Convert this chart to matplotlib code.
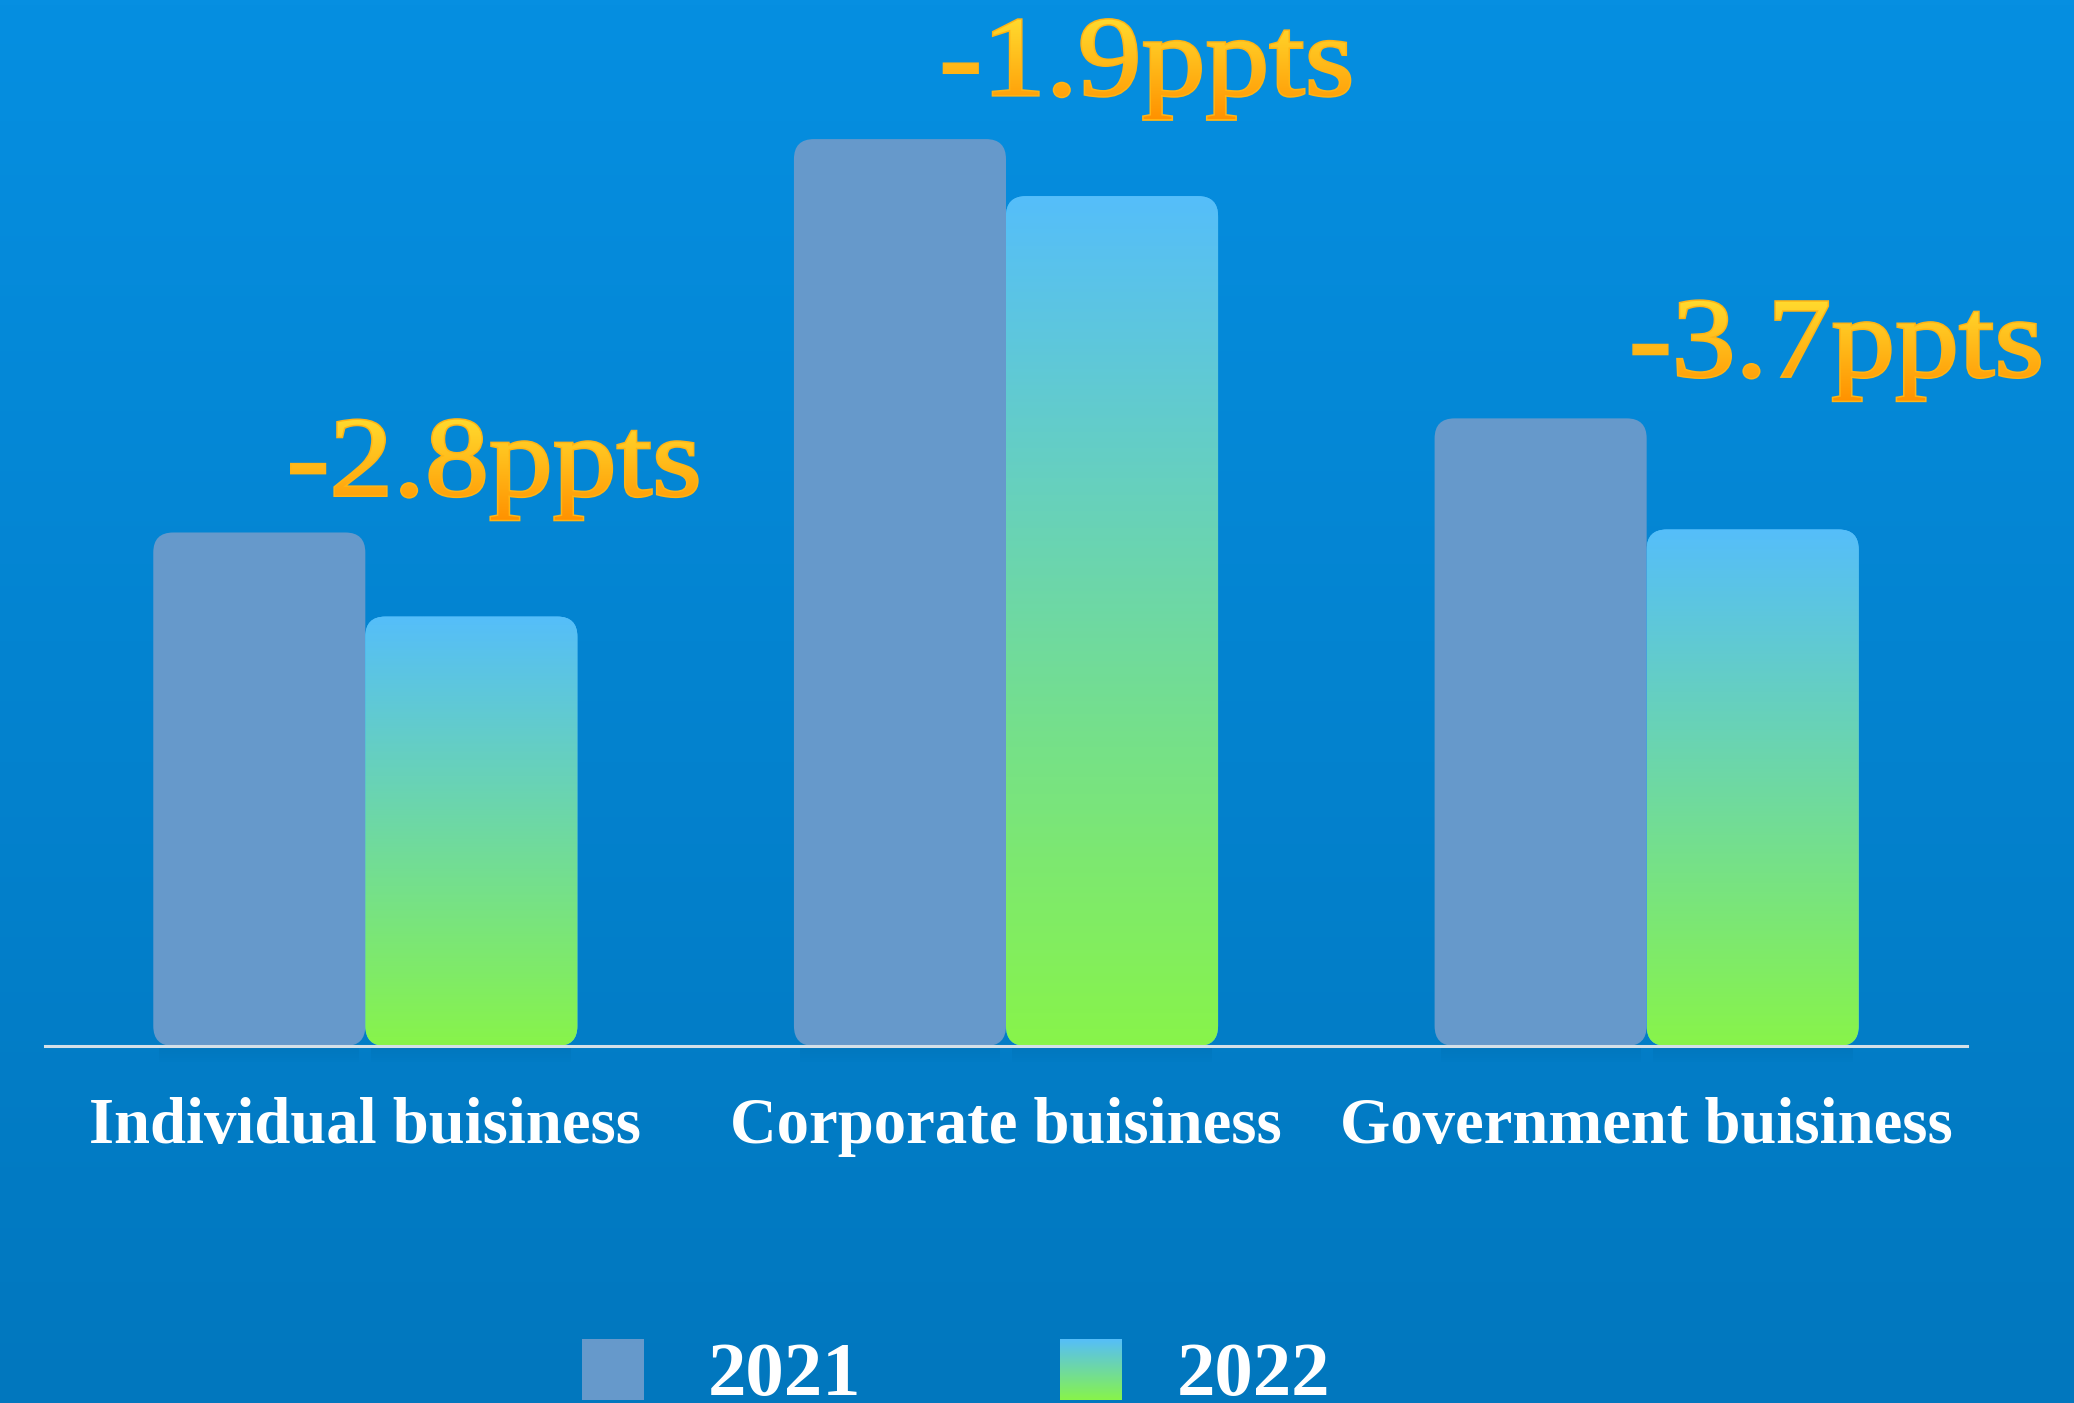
import numpy as np
import matplotlib
matplotlib.use("Agg")
import matplotlib.pyplot as plt
from matplotlib.colors import to_rgb
from matplotlib.patches import FancyBboxPatch, PathPatch, Rectangle
from matplotlib.textpath import TextPath
from matplotlib.font_manager import FontProperties
from matplotlib.transforms import Affine2D

# share of business (%) by segment
categories = ["Individual buisiness", "Corporate buisiness", "Government buisiness"]
years = ["2021", "2022"]
share_2021 = [17.1, 30.2, 20.9]
share_2022 = [14.3, 28.3, 17.2]

W, H, DPI = 2074, 1403, 100
BG_TOP, BG_BOTTOM = "#068FE1", "#0177BE"
C_2021 = "#6699CB"
G_TOP, G_BOTTOM = "#55BEFA", "#88F44A"
OR_TOP, OR_BOTTOM = "#FFDA2E", "#FF9200"
SERIF = "Liberation Serif"


def vgrad(top, bottom, n=256):
    t = np.linspace(0, 1, n)[:, None, None]
    a, b = np.array(to_rgb(top)), np.array(to_rgb(bottom))
    return a * (1 - t) + b * t


fig = plt.figure(figsize=(W / DPI, H / DPI), dpi=DPI)

# full-figure pixel canvas for the background
bg = fig.add_axes([0, 0, 1, 1], zorder=0)
bg.imshow(vgrad(BG_TOP, BG_BOTTOM), extent=(0, W, 0, H), aspect="auto", origin="upper")
bg.set_xlim(0, W); bg.set_ylim(0, H); bg.axis("off")

# plotting area: baseline 1046 px from the top, ~30 px per percentage point
left_px, right_px, base_px, px_per_pt = 45, 1967, 1046, 30.03
ax = fig.add_axes([left_px / W, (H - base_px) / H, (right_px - left_px) / W, base_px / H], zorder=1)
ax.patch.set_alpha(0)
xlim, ylim = (-0.5, 2.5), (0, base_px / px_per_pt)
ax.set_xlim(*xlim); ax.set_ylim(*ylim)
ax.set_autoscale_on(False)
for s in ax.spines.values():
    s.set_visible(False)
ax.spines["bottom"].set_visible(True)
ax.spines["bottom"].set_color("#D4E0E8")
ax.spines["bottom"].set_linewidth(2.2)
ax.spines["bottom"].set_zorder(4)
ax.set_xticks([]); ax.set_yticks([])

x = np.arange(len(categories))
w = 0.331
bars21 = ax.bar(x - w / 2, share_2021, w, color=C_2021)
bars22 = ax.bar(x + w / 2, share_2022, w, color=G_TOP)

sx = ax.transData.transform((1, 0))[0] - ax.transData.transform((0, 0))[0]
sy = ax.transData.transform((0, 1))[1] - ax.transData.transform((0, 0))[1]
radius = 20 / sx
aspect = sx / sy


def rounded(rect, **kw):
    p = FancyBboxPatch((rect.get_x(), rect.get_y()), rect.get_width(), rect.get_height(),
                       boxstyle=f"round,pad=0,rounding_size={radius}",
                       mutation_aspect=aspect, **kw)
    ax.add_patch(p)
    return p


for rect in list(bars21) + list(bars22):
    rect.set_visible(False)
    # soft shadow just under the baseline, built from fading strips
    for k in range(8):
        ax.add_patch(Rectangle((rect.get_x() + 6 / sx, -(2 + 2 * k) / sy),
                               rect.get_width() - 12 / sx, 2 / sy,
                               color="#003A66", alpha=0.09 * (1 - k / 8), lw=0, clip_on=False))

for rect in bars21:
    rounded(rect, fc=C_2021, ec="none", zorder=2)

for rect in bars22:
    clip = rounded(rect, fc=G_TOP, ec="none", zorder=2)
    im = ax.imshow(vgrad(G_TOP, G_BOTTOM), aspect="auto", origin="upper", zorder=3,
                   extent=(rect.get_x(), rect.get_x() + rect.get_width(), 0, rect.get_height()))
    im.set_clip_path(clip)

ax.set_xlim(*xlim); ax.set_ylim(*ylim)

# category names under the baseline
for i, name in enumerate(categories):
    ax.text(x[i], -97 / sy, name, ha="center", va="baseline", color="white",
            fontsize=46.5, fontweight="bold", family=SERIF, clip_on=False)

# overlay in pixel coordinates for gradient labels and legend
ov = fig.add_axes([0, 0, 1, 1], zorder=3)
ov.patch.set_alpha(0)
ov.set_xlim(0, W); ov.set_ylim(0, H)
ov.set_autoscale_on(False)
ov.axis("off")

label_dx = [129, 141, 190]
label_dy = [37, 44, 42]
fp = FontProperties(family=SERIF)
for i in range(len(categories)):
    diff = share_2022[i] - share_2021[i]
    tp = TextPath((0, 0), f"{diff:.1f}ppts", size=114, prop=fp)
    bb = tp.get_extents()
    cx, top = ax.transData.transform((x[i], share_2021[i]))
    tr = (Affine2D().translate(-(bb.x0 + bb.x1) / 2, 0).scale(1.12, 1)
          .translate(cx + label_dx[i], top + label_dy[i]))
    path = tr.transform_path(tp)
    ext = path.get_extents()
    # thin stroke underneath to give the glyphs a bit more weight
    ov.add_patch(PathPatch(path, fc="#FFB818", ec="#FFB414", lw=2.2, zorder=2))
    clip = PathPatch(path, fc="none", ec="none", zorder=2)
    ov.add_patch(clip)
    im = ov.imshow(vgrad(OR_TOP, OR_BOTTOM), aspect="auto", origin="upper", zorder=3,
                   extent=(ext.x0, ext.x1, ext.y0, ext.y1))
    im.set_clip_path(clip)

# legend
patch_left = [582, 1060]
text_left = [708, 1177]
sw_bottom, sw_top = H - 1400, H - 1339
ov.add_patch(Rectangle((patch_left[0], sw_bottom), 62, sw_top - sw_bottom, fc=C_2021, ec="none"))
ov.imshow(vgrad(G_TOP, G_BOTTOM), aspect="auto", origin="upper", zorder=3,
          extent=(patch_left[1], patch_left[1] + 62, sw_bottom, sw_top))
for xl, yr in zip(text_left, years):
    ov.text(xl, H - 1395, yr, ha="left", va="baseline", color="white",
            fontsize=55.4, fontweight="bold", family=SERIF)

ov.set_xlim(0, W); ov.set_ylim(0, H)
fig.savefig("out.png", dpi=DPI)
